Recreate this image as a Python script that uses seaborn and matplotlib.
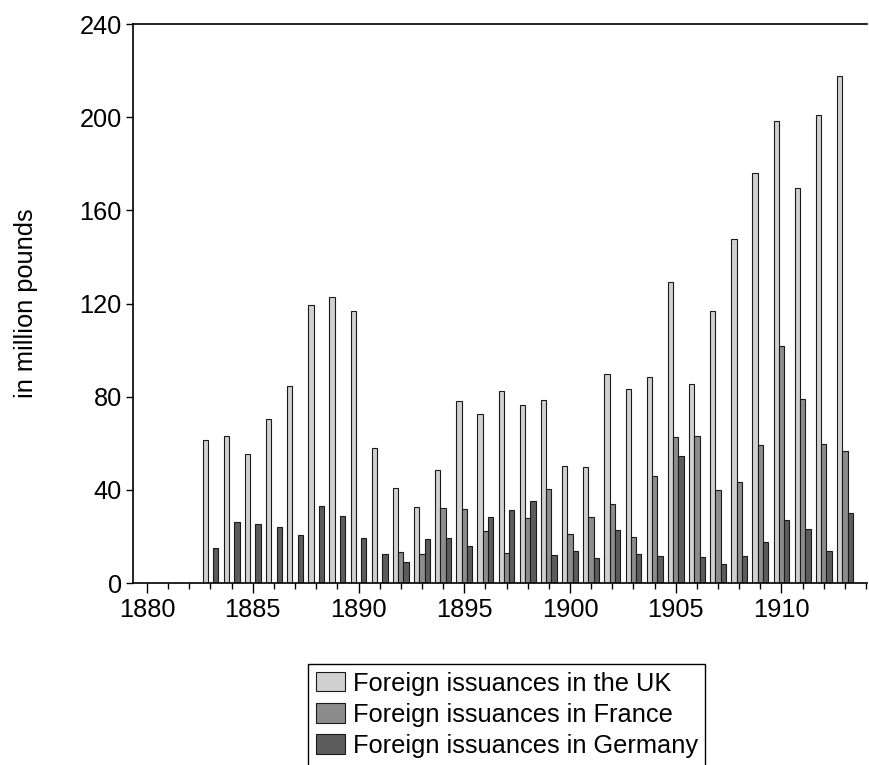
import numpy as np
import pandas as pd
import matplotlib.pyplot as plt
from matplotlib.ticker import MultipleLocator
import seaborn as sns

# Foreign issuances, in million pounds
years = list(range(1883, 1914))
uk = [61.4, 63.3, 55.5, 70.3, 84.7, 119.2, 123.0, 116.7, 57.8, 40.9,
      32.5, 48.7, 78.0, 72.7, 82.4, 76.4, 78.4, 50.1, 49.8, 89.6,
      83.3, 88.5, 129.1, 85.4, 116.6, 147.5, 176.0, 198.3, 169.5, 201.0, 217.6]
france = [np.nan] * 9 + [13.3, 12.3, 32.1, 31.6, 22.5, 12.7, 27.9, 40.2, 21.0, 28.5, 34.0,
                         19.7, 46.0, 62.6, 63.1, 39.9, 43.4, 59.2, 101.7, 79.0, 59.7, 56.7]
germany = [15.0, 26.3, 25.2, 24.2, 20.5, 32.9, 28.9, 19.2, 12.3, 8.9,
           18.8, 19.2, 15.9, 28.2, 31.3, 35.1, 11.9, 13.9, 10.6, 22.6,
           12.4, 11.8, 54.7, 11.2, 8.0, 11.7, 17.6, 27.2, 23.0, 13.7, 30.1]
series = ['Foreign issuances in the UK', 'Foreign issuances in France',
          'Foreign issuances in Germany']
colors = ['#d0d0d0', '#8c8c8c', '#5c5c5c']

df = pd.DataFrame({'year': years, series[0]: uk, series[1]: france, series[2]: germany})
df = df.melt(id_vars='year', var_name='series', value_name='value')

sns.set_theme(style='ticks')
plt.rcParams['font.family'] = ['Liberation Sans', 'DejaVu Sans']
plt.rcParams['text.color'] = 'black'
plt.rcParams['xtick.color'] = 'black'
plt.rcParams['ytick.color'] = 'black'
plt.rcParams['axes.labelcolor'] = 'black'

fig = plt.figure(figsize=(8.69, 7.65), dpi=100)
ax = fig.add_axes([0.1536, 0.2379, 0.844, 0.7307])

sns.barplot(data=df, x='year', y='value', hue='series', hue_order=series,
            palette=colors, native_scale=True, dodge=True, width=0.75,
            errorbar=None, edgecolor='#1a1a1a', linewidth=0.8, ax=ax)

ax.set_xlim(1879.36, 1914.04)
ax.set_ylim(0, 240)
ax.xaxis.set_major_locator(MultipleLocator(5))
ax.xaxis.set_minor_locator(MultipleLocator(1))
ax.yaxis.set_major_locator(MultipleLocator(40))
ax.tick_params(axis='both', which='major', labelsize=18.3, length=7, width=1, color='black')
ax.tick_params(axis='x', which='minor', length=4, width=1, color='black')
ax.tick_params(axis='y', length=5)
ax.set_xlabel('')
ax.set_ylabel('in million pounds', fontsize=18.3, labelpad=30)

for side in ['left', 'top', 'bottom']:
    ax.spines[side].set_visible(True)
    ax.spines[side].set_color('black')
    ax.spines[side].set_linewidth(1.2)
ax.spines['right'].set_visible(False)

handles, labels = ax.get_legend_handles_labels()
ax.legend(handles, labels, loc='upper center', bbox_to_anchor=(0.5834, 0.132),
          bbox_transform=fig.transFigure, fontsize=18.3, frameon=True, fancybox=False,
          edgecolor='black', framealpha=1, borderaxespad=0, borderpad=0.3,
          handlelength=1.14, handleheight=0.79, handletextpad=0.3, labelspacing=0.28)
ax.get_legend().get_frame().set_linewidth(1.0)

fig.savefig('out.png', dpi=100)
